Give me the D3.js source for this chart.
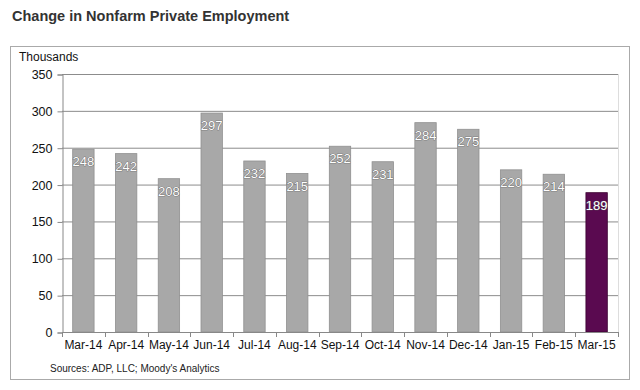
<!DOCTYPE html>
<html><head><meta charset="utf-8">
<script src="https://cdn.jsdelivr.net/npm/d3@7"></script>
<style>body{margin:0;background:#fff;}svg{display:block;font-family:"Liberation Sans",Arial,sans-serif;}</style>
</head><body>
<svg id="c" width="640" height="390"></svg>
<script>
const categories = ["Mar-14","Apr-14","May-14","Jun-14","Jul-14","Aug-14","Sep-14","Oct-14","Nov-14","Dec-14","Jan-15","Feb-15","Mar-15"];
const values = [248,242,208,297,232,215,252,231,284,275,220,214,189];
const yTicks = [0,50,100,150,200,250,300,350];

const svg = d3.select("#c");
const m = {l:62, r:618, t:74, b:332};

svg.append("text").attr("x",12).attr("y",21).attr("font-size",14.5).attr("font-weight","bold").attr("fill","#333").text("Change in Nonfarm Private Employment");
svg.append("rect").attr("x",10.5).attr("y",46.5).attr("width",619).attr("height",333).attr("fill","none").attr("stroke","#aaa");
svg.append("text").attr("x",19).attr("y",61).attr("font-size",12).attr("fill","#111").text("Thousands");

const x = d3.scaleBand().domain(categories).range([m.l,m.r]).paddingInner(0.5).paddingOuter(0.25);
const y = d3.scaleLinear().domain([0,350]).range([m.b,m.t]);

// gridlines
svg.append("g").selectAll("line").data(yTicks.filter(d=>d>0)).join("line")
  .attr("x1",m.l).attr("x2",m.r).attr("y1",d=>y(d)+0.5).attr("y2",d=>y(d)+0.5)
  .attr("stroke","#8c8c8c").attr("stroke-width",1);
svg.append("line").attr("x1",m.r+0.5).attr("x2",m.r+0.5).attr("y1",m.t).attr("y2",m.b).attr("stroke","#ddd");

// y axis
const ya = svg.append("g").attr("transform",`translate(${m.l+0.5},0.5)`)
  .call(d3.axisLeft(y).tickValues(yTicks).tickSize(5).tickPadding(5));
ya.select(".domain").attr("stroke","#888");
ya.selectAll(".tick line").attr("stroke","#888");
ya.selectAll("text").attr("font-size",12.5).attr("fill","#111").attr("font-family","Liberation Sans, Arial, sans-serif");

// bars
svg.append("g").selectAll("rect").data(values).join("rect")
  .attr("x",(d,i)=>x(categories[i])).attr("width",x.bandwidth())
  .attr("y",d=>y(d)).attr("height",d=>m.b-y(d))
  .attr("fill",(d,i)=>i===values.length-1?"#5a0a50":"#a8a8a8")
  .attr("stroke",(d,i)=>i===values.length-1?"#3a0030":"#909090").attr("stroke-width",0.8);

// x axis
const step = x.step();
const bounds = d3.range(categories.length+1).map(i=>m.l+i*step);
svg.append("line").attr("x1",m.l).attr("x2",m.r).attr("y1",m.b+0.5).attr("y2",m.b+0.5).attr("stroke","#888");
svg.append("g").selectAll("line").data(bounds).join("line")
  .attr("x1",d=>Math.round(d)+0.5).attr("x2",d=>Math.round(d)+0.5).attr("y1",m.b).attr("y2",m.b+5).attr("stroke","#888");
svg.append("g").selectAll("text").data(categories).join("text")
  .attr("x",d=>x(d)+x.bandwidth()/2).attr("y",m.b+17).attr("text-anchor","middle")
  .attr("font-size",12).attr("fill","#111").text(d=>d);

// value labels
svg.append("g").selectAll("text").data(values).join("text")
  .attr("x",(d,i)=>x(categories[i])+x.bandwidth()/2).attr("y",d=>y(d)+17)
  .attr("text-anchor","middle").attr("font-size",13).attr("fill","#fff")
  .attr("stroke","#555").attr("stroke-width",0.7).attr("paint-order","stroke")
  .text(d=>d);

svg.append("text").attr("x",50).attr("y",372).attr("font-size",10).attr("fill","#222").text("Sources: ADP, LLC; Moody's Analytics");
</script>
</body></html>
